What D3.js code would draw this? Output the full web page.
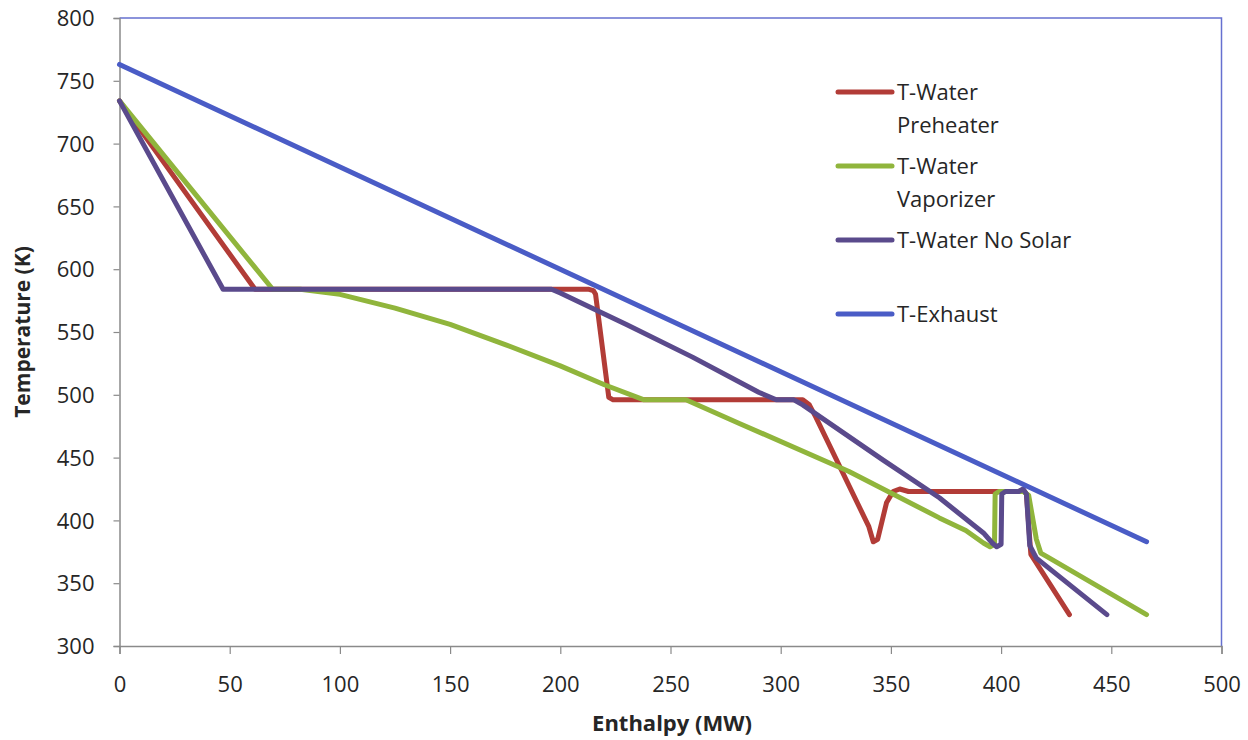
<!DOCTYPE html>
<html>
<head>
<meta charset="utf-8">
<script src="https://cdn.jsdelivr.net/npm/d3@7"></script>
<style>
  body { margin: 0; background: #fff; }
  text { font-family: "Open Sans", "Noto Sans", sans-serif; fill: #262626; }
</style>
</head>
<body>
<div id="chart"></div>
<script>
// data: [enthalpy MW, temperature K]
const waterPreheater = [[0,734],[61.5,584],[213,584],[215,583],[216,580],[222,498],[224,496],[310,496],[313,492],[316,482],[340,395],[342,383],[344,385],[348,414],[351,423],[354,425],[358,423],[408,423],[410,424.5],[411.5,421],[413.5,373],[431,325]];
const waterVaporizer = [[0,734],[69.5,584],[82,584],[100,580],[125,569],[150,556],[175,540],[200,523],[220,508],[238,496],[257,496],[281.5,477],[331,439],[372,402],[384,392],[392,382],[395,379],[397,381],[397.3,421],[399,423],[410,423],[412.5,420],[416,385],[418,374],[421,371],[466,325]];
const waterNoSolar = [[0,734],[47,584],[196,584],[200,581],[230,556],[260,530],[290,502],[298,496],[306,496],[310,492],[346.5,448],[372,418],[392,390],[396,382],[398,379],[400,381],[400.3,421],[402,423],[408,423],[410,425],[411.5,421],[413,380],[416,370],[448,325]];
const exhaust = [[0,763],[466,383]];

const seriesNames = ["T-Water Preheater","T-Water Vaporizer","T-Water No Solar","T-Exhaust"];
const seriesColors = ["#b23c37","#90b53c","#5a4a8c","#4a5cc6"];
const xTicks = [0,50,100,150,200,250,300,350,400,450,500];
const yTicks = [300,350,400,450,500,550,600,650,700,750,800];

const width = 1248, height = 740;
const svg = d3.select("#chart").append("svg")
    .attr("width", width)
    .attr("height", height);

const x = d3.scaleLinear().domain([0,500]).range([119.5,1221.5]);
const y = d3.scaleLinear().domain([300,800]).range([646,18]);

// plot frame: thin blue top/right border
svg.append("path")
    .attr("d", `M${x(0)},${y(800)}H${x(500)}V${y(300)}`)
    .attr("fill","none")
    .attr("stroke","#6670d0")
    .attr("stroke-width",1.5);

// axes
const yAxis = svg.append("g")
    .attr("transform",`translate(${x(0)},0)`)
    .call(d3.axisLeft(y).tickValues(yTicks).tickSize(6).tickPadding(19));
const xAxis = svg.append("g")
    .attr("transform",`translate(0,${y(300)})`)
    .call(d3.axisBottom(x).tickValues(xTicks).tickSize(8).tickPadding(22));

[xAxis,yAxis].forEach(g=>{
    g.select(".domain").attr("stroke","#8a8a8a").attr("stroke-width",1.5);
    g.selectAll(".tick line").attr("stroke","#8a8a8a").attr("stroke-width",1.2);
    g.selectAll(".tick text")
        .attr("font-size",22)
        .attr("font-family",'"Open Sans", sans-serif')
        .attr("fill","#262626");
});
yAxis.selectAll(".tick text").attr("dy","0.35em");

// axis titles
svg.append("text")
    .attr("x", 672).attr("y", 731)
    .attr("text-anchor","middle")
    .attr("font-size",22).attr("font-weight",700)
    .text("Enthalpy (MW)");
svg.append("text")
    .attr("transform","translate(30,332) rotate(-90)")
    .attr("text-anchor","middle")
    .attr("font-size",21).attr("font-weight",700)
    .text("Temperature (K)");

// lines, drawn in series order (red, green, purple, blue on top)
const line = d3.line().x(d=>x(d[0])).y(d=>y(d[1]));
const allSeries = [waterPreheater, waterVaporizer, waterNoSolar, exhaust];
allSeries.forEach((s,i)=>{
    svg.append("path")
        .datum(s)
        .attr("d", line)
        .attr("fill","none")
        .attr("stroke", seriesColors[i])
        .attr("stroke-width",5)
        .attr("stroke-linejoin","round")
        .attr("stroke-linecap","round");
});

// legend
const legendRows = [
    {lines:["T-Water","Preheater"], y:92},
    {lines:["T-Water","Vaporizer"], y:166},
    {lines:["T-Water No Solar"], y:240},
    {lines:["T-Exhaust"], y:314}
];
const legend = svg.append("g");
legendRows.forEach((r,i)=>{
    legend.append("line")
        .attr("x1",838).attr("x2",892)
        .attr("y1",r.y).attr("y2",r.y)
        .attr("stroke",seriesColors[i])
        .attr("stroke-width",5)
        .attr("stroke-linecap","round");
    r.lines.forEach((t,j)=>{
        legend.append("text")
            .attr("x",897)
            .attr("y",r.y + 8 + j*33)
            .attr("font-size",22)
            .text(t);
    });
});
</script>
</body>
</html>
